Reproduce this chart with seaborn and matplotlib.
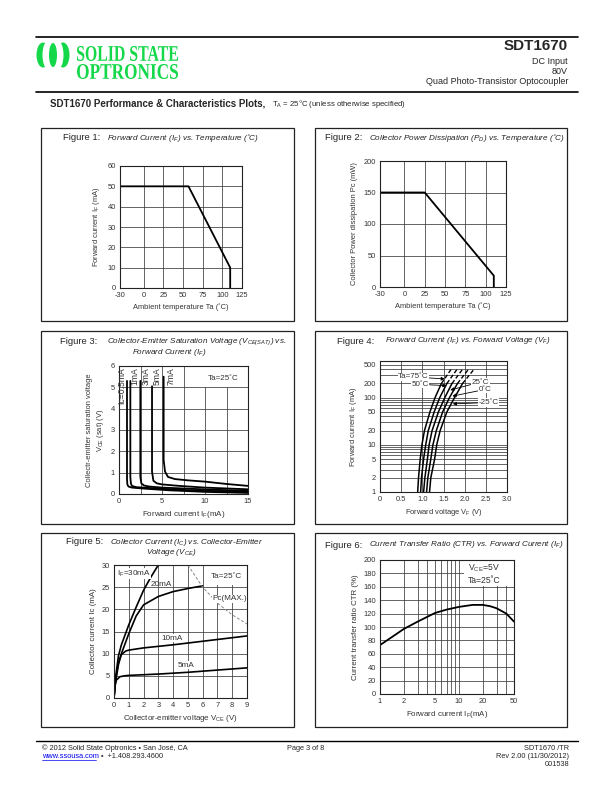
import numpy as np
import pandas as pd
import seaborn as sns
import matplotlib.pyplot as plt
import matplotlib.ticker as mticker
import matplotlib.transforms as mtransforms
from matplotlib.textpath import TextPath
from matplotlib.patches import PathPatch, Rectangle, Ellipse
from matplotlib.font_manager import FontProperties

# ---- data ----
# Figure 1: forward current derating
fig1_ta = [-30, 57, 110, 110]
fig1_if = [50, 50, 10, 0]

# Figure 2: collector power dissipation derating
fig2_ta = [-30, 25, 110, 110]
fig2_pc = [150, 150, 18, 0]

# Figure 3: Vce(sat) vs IF, one curve per Ic
fig3_labels = ["Ic=0.5mA", "1mA", "3mA", "5mA", "7mA"]
fig3_label_x = [0.36, 1.9, 3.15, 4.4, 6.0]
fig3_if = [
    [0.93, 0.93, 0.97, 1.1, 1.5, 3, 6, 10, 15],
    [1.32, 1.32, 1.38, 1.5, 2, 4, 7, 10, 15],
    [2.48, 2.48, 2.6, 2.9, 3.5, 5, 8, 11, 15],
    [3.84, 3.84, 4.0, 4.4, 5, 7, 10, 15],
    [5.19, 5.19, 5.35, 5.7, 6.5, 8, 10, 12.5, 15],
]
fig3_vce = [
    [5.3, 0.7, 0.45, 0.35, 0.3, 0.25, 0.17, 0.1, 0.05],
    [5.3, 0.8, 0.5, 0.38, 0.32, 0.27, 0.2, 0.15, 0.1],
    [5.3, 0.8, 0.5, 0.4, 0.35, 0.3, 0.25, 0.2, 0.15],
    [5.05, 1.05, 0.62, 0.5, 0.45, 0.38, 0.3, 0.22],
    [5.5, 1.6, 1.05, 0.8, 0.7, 0.64, 0.58, 0.47, 0.38],
]

# Figure 4: IF vs VF at several ambient temperatures
fig4_if = [1, 2, 5, 10, 20, 50, 100, 200, 400]
fig4_temps = ["75", "50", "25", "0", "-25"]
fig4_vf = [
    [0.89, 0.91, 0.95, 0.99, 1.05, 1.18, 1.30, 1.45, 1.68],
    [0.96, 0.98, 1.03, 1.08, 1.14, 1.28, 1.41, 1.58, 1.82],
    [1.03, 1.06, 1.12, 1.16, 1.23, 1.38, 1.53, 1.70, 1.95],
    [1.10, 1.13, 1.20, 1.25, 1.33, 1.48, 1.64, 1.83, 2.09],
    [1.17, 1.20, 1.29, 1.34, 1.42, 1.58, 1.76, 1.95, 2.22],
]
fig4_yticks = [1, 2, 5, 10, 20, 50, 100, 200, 500]
fig4_xticks = [0, 0.5, 1.0, 1.5, 2.0, 2.5, 3.0]

# Figure 5: Ic vs Vce, one curve per IF
fig5_vce = [
    [0, 0.1, 0.3, 0.5, 1, 1.5, 2, 2.5, 3],
    [0, 0.1, 0.3, 0.5, 1, 1.5, 2, 3, 4, 5, 6],
    [0, 0.1, 0.3, 0.5, 0.8, 1, 2, 4, 6, 9],
    [0, 0.05, 0.15, 0.4, 0.7, 1, 3, 5, 7, 9],
]
fig5_ic = [
    [0, 4.5, 9.5, 12, 16.5, 20.5, 24.3, 27.3, 30],
    [0, 3.5, 7.5, 10, 14.5, 18.5, 21, 22.9, 24, 24.7, 25.3],
    [0, 4, 8, 9.8, 10.6, 10.8, 11.3, 12, 12.8, 14],
    [0, 2.5, 4, 4.8, 5, 5.1, 5.4, 5.8, 6.3, 6.8],
]
fig5_pc_vce = [5, 6, 7, 8, 9]
fig5_pc_ic = [30, 25, 21.4, 18.75, 16.7]

# Figure 6: CTR vs IF
fig6_if = [1, 1.5, 2, 3, 5, 7, 10, 15, 20, 25, 30, 40, 50]
fig6_ctr = [73, 87, 97, 108, 121, 126, 130, 133, 133, 131, 128, 120, 108]

# ---- styling ----
sns.set_style("white")
plt.rcParams["font.family"] = ["Liberation Sans", "DejaVu Sans"]
plt.rcParams["axes.unicode_minus"] = False
plt.rcParams["mathtext.fontset"] = "custom"
plt.rcParams["mathtext.rm"] = "Liberation Sans"
plt.rcParams["mathtext.it"] = "Liberation Sans:italic"
plt.rcParams["mathtext.default"] = "regular"

W, H = 612, 792
GREEN = "#14d84a"
TXT = "#333333"
GRID = "#3a3a3a"
TICK_FS = 5.4
LAB_FS = 5.4

fig = plt.figure(figsize=(W / 100, H / 100), dpi=100)

# page layer in pixel coordinates
page = fig.add_axes([0, 0, 1, 1])
page.set_xlim(0, W)
page.set_ylim(H, 0)
page.axis("off")


def squeezed(s, x0, x1, ybase, height):
    tp = TextPath((0, 0), s, size=1, prop=FontProperties(family="Liberation Serif", weight="bold"))
    ext = tp.get_extents()
    tr = (mtransforms.Affine2D().translate(-ext.x0, -ext.y0)
          .scale((x1 - x0) / ext.width, -height / ext.height)
          .translate(x0, ybase) + page.transData)
    page.add_patch(PathPatch(tp, transform=tr, color=GREEN, lw=0))


# header
page.plot([36, 578], [36.5, 36.5], color="black", lw=1.2)
page.plot([36, 578], [92, 92], color="black", lw=1.2)
page.add_patch(Ellipse((43, 55), 13, 25, color=GREEN, lw=0))
page.add_patch(Ellipse((47.5, 55), 10, 27, color="white", lw=0))
page.add_patch(Ellipse((63, 55), 13, 25, color=GREEN, lw=0))
page.add_patch(Ellipse((58.5, 55), 10, 27, color="white", lw=0))
page.add_patch(Ellipse((53, 55), 8, 24, color=GREEN, lw=0))
squeezed("SOLID STATE", 77, 178, 61, 15)
squeezed("OPTRONICS", 77, 178, 79, 15)
page.text(568, 46, "SDT1670", ha="right", va="center", fontsize=11, fontweight="bold")
page.text(568, 61, "DC Input", ha="right", va="center", fontsize=6.5)
page.text(568, 72, "80V", ha="right", va="center", fontsize=6.5)
page.text(568, 82, "Quad Photo-Transistor Optocoupler", ha="right", va="center", fontsize=6.5)
page.text(50, 103, "SDT1670 Performance & Characteristics Plots,", ha="left", va="center",
          fontsize=7.0, fontweight="bold")
page.text(272, 103.5, r"T$_\mathrm{A}$ = 25°C (unless otherwise specified)", ha="left", va="center",
          fontsize=5.6)

# footer
page.plot([36, 578], [740.5, 740.5], color="black", lw=1.0)
page.text(42, 748, "© 2012 Solid State Optronics • San José, CA", ha="left", va="center", fontsize=5.3)
page.text(42, 756, "www.ssousa.com", ha="left", va="center", fontsize=5.3, color="#0000ee")
page.plot([42, 96], [759.5, 759.5], color="#0000ee", lw=0.5)
page.text(101, 756, "•  +1.408.293.4600", ha="left", va="center", fontsize=5.3)
page.text(287, 748, "Page 3 of 8", ha="left", va="center", fontsize=5.3)
page.text(569, 748, "SDT1670 /TR", ha="right", va="center", fontsize=5.3)
page.text(569, 756, "Rev 2.00 (11/30/2012)", ha="right", va="center", fontsize=5.3)
page.text(569, 764, "001538", ha="right", va="center", fontsize=5.3)

# panel boxes and titles
boxes = [(41, 128, 294, 321), (315, 128, 567, 321),
         (41, 331, 294, 524), (315, 331, 567, 524),
         (41, 533, 294, 727), (315, 533, 567, 727)]
for l, t, r, b in boxes:
    page.add_patch(Rectangle((l, t), r - l, b - t, fill=False, ec="#222222", lw=0.9))

titles = [
    (63, 138, "Figure 1:", 107, [(138, r"Forward Current (I$_F$) vs. Temperature (˚C)")]),
    (325, 138, "Figure 2:", 369, [(138, r"Collector Power Dissipation (P$_D$) vs. Temperature (˚C)")]),
    (60, 342, "Figure 3:", 107, [(342, r"Collector-Emitter Saturation Voltage (V$_{CE(SAT)}$) vs."),
                                 (353, r"Forward Current (I$_F$)", 132)]),
    (337, 341, "Figure 4:", 385, [(341, r"Forward Current (I$_F$) vs. Forward Voltage (V$_F$)")]),
    (66, 542, "Figure 5:", 110, [(542, r"Collector Current (I$_C$) vs. Collector-Emitter"),
                                 (553, r"Voltage (V$_{CE}$)", 146)]),
    (325, 545, "Figure 6:", 369, [(545, r"Current Transfer Ratio (CTR) vs. Forward Current (I$_F$)")]),
]
for fx, fy, fig_lbl, ix, lines in titles:
    page.text(fx, fy, fig_lbl, ha="left", va="center", fontsize=6.8)
    for item in lines:
        yy, txt = item[0], item[1]
        xx = item[2] if len(item) > 2 else ix
        page.text(xx, yy, txt, ha="left", va="center", fontsize=5.9, style="italic", color="#222222")


def panel(l, t, r, b):
    ax = fig.add_axes([l / W, 1 - b / H, (r - l) / W, (b - t) / H])
    ax.set_facecolor("none")
    for sp in ax.spines.values():
        sp.set_visible(True)
        sp.set_color("#222222")
        sp.set_linewidth(0.8)
    ax.tick_params(axis="both", which="both", length=0, pad=3, labelsize=TICK_FS, labelcolor=TXT)
    ax.grid(True, which="both", color=GRID, lw=0.55)
    ax.set_axisbelow(True)
    return ax


def curve(ax, x, y, **kw):
    kw.setdefault("color", "black")
    kw.setdefault("lw", 1.3)
    sns.lineplot(x=x, y=y, ax=ax, sort=False, estimator=None, legend=False, **kw)


deg = "˚"

# ---- Figure 1 ----
ax1 = panel(120, 166, 242, 288)
curve(ax1, fig1_ta, fig1_if)
ax1.set_xlim(-30, 125)
ax1.set_ylim(0, 60)
ax1.set_xticks([-30, 0, 25, 50, 75, 100, 125])
ax1.set_yticks(range(0, 61, 10))
ax1.set_xlabel(f"Ambient temperature Ta ({deg}C)", fontsize=LAB_FS, color=TXT, labelpad=3)
ax1.set_ylabel(r"Forward current I$_F$ (mA)", fontsize=LAB_FS, color=TXT, labelpad=4)

# ---- Figure 2 ----
ax2 = panel(380, 161, 506, 287)
curve(ax2, fig2_ta, fig2_pc)
ax2.set_xlim(-30, 125)
ax2.set_ylim(0, 200)
ax2.set_xticks([-30, 0, 25, 50, 75, 100, 125])
ax2.set_yticks(range(0, 201, 50))
ax2.set_xlabel(f"Ambient temperature Ta ({deg}C)", fontsize=LAB_FS, color=TXT, labelpad=3)
ax2.set_ylabel("Collector Power dissipation Pc (mW)", fontsize=LAB_FS, color=TXT, labelpad=4)

# ---- Figure 3 ----
ax3 = panel(119, 366, 248, 494)
for xs, ys in zip(fig3_if, fig3_vce):
    curve(ax3, xs, ys)
ax3.set_xlim(0, 15)
ax3.set_ylim(0, 6)
ax3.set_xticks([0, 5, 10, 15])
ax3.xaxis.set_minor_locator(mticker.MultipleLocator(2.5))
ax3.set_yticks(range(0, 7))
for lbl, lx in zip(fig3_labels, fig3_label_x):
    ax3.text(lx, 5.93, lbl, rotation=90, ha="center", va="top", fontsize=6.2, color=TXT)
ax3.add_patch(Rectangle((8.6, 5.02), 6.35, 0.96, fc="white", ec="none", zorder=1.5))
ax3.text(12.1, 5.4, f"Ta=25{deg}C", ha="center", va="center", fontsize=5.8, color=TXT)
ax3.set_xlabel(r"Forward current I$_F$(mA)", fontsize=LAB_FS + 0.4, color=TXT, labelpad=3)
ax3.set_ylabel("Collectr-emitter saturation voltage\n" + r"V$_{CE}$ (sat) (V)",
               fontsize=LAB_FS, color=TXT, labelpad=3, linespacing=1.4)

# ---- Figure 4 ----
ax4 = panel(380, 361, 507, 492)
ax4.set_yscale("log")
for vs in fig4_vf:
    curve(ax4, vs[:8], fig4_if[:8], lw=1.1)
    curve(ax4, vs[7:], fig4_if[7:], lw=1.0, linestyle=(0, (3, 1.6)))
ax4.set_xlim(0, 3.0)
ax4.set_ylim(1, 600)
ax4.set_xticks(fig4_xticks)
ax4.set_xticklabels([f"{v:.1f}" if v else "0" for v in fig4_xticks])
ax4.set_yticks(fig4_yticks)
ax4.set_yticklabels([str(v) for v in fig4_yticks])
ax4.yaxis.set_minor_locator(mticker.LogLocator(base=10, subs=np.arange(1, 10)))
ax4.yaxis.set_minor_formatter(mticker.NullFormatter())
lab_pos = [(0.79, 275, 1.53, 250), (0.95, 192, 1.57, 180), (2.37, 215, 1.66, 145),
           (2.49, 150, 1.71, 108), (2.57, 79, 1.72, 74)]
for tlabel, (tx, ty, ax_, ay_) in zip(fig4_temps, lab_pos):
    s = f"Ta={tlabel}{deg}C" if tlabel == "75" else f"{tlabel}{deg}C"
    ax4.annotate(s, xy=(ax_, ay_), xytext=(tx, ty), ha="center", va="center", fontsize=5.8,
                 color=TXT, bbox=dict(fc="white", ec="none", pad=0.4),
                 arrowprops=dict(arrowstyle="-|>", lw=0.6, color="black", mutation_scale=5,
                                 shrinkA=0, shrinkB=0))
ax4.set_xlabel(r"Forward voltage V$_F$ (V)", fontsize=LAB_FS, color=TXT, labelpad=3)
ax4.set_ylabel(r"Forward current I$_F$ (mA)", fontsize=LAB_FS, color=TXT, labelpad=3)

# ---- Figure 5 ----
ax5 = panel(114, 565, 247, 698)
for xs, ys in zip(fig5_vce, fig5_ic):
    curve(ax5, xs, ys, lw=1.2)
curve(ax5, fig5_pc_vce, fig5_pc_ic, color="#888888", lw=0.7, linestyle=(0, (3, 2)))
ax5.set_xlim(0, 9)
ax5.set_ylim(0, 30)
ax5.set_xticks(range(0, 10))
ax5.set_yticks(range(0, 31, 5))
ax5.add_patch(Rectangle((6.3, 25.6), 2.6, 4.3, fc="white", ec="none", zorder=1.5))
ax5.text(7.6, 27.3, f"Ta=25{deg}C", ha="center", va="center", fontsize=5.9, color=TXT)
box = dict(fc="white", ec="none", pad=0.3)
ax5.text(0.2, 28.0, r"I$_F$=30mA", ha="left", va="center", fontsize=5.9, color=TXT, bbox=box)
ax5.text(3.2, 25.6, "20mA", ha="center", va="center", fontsize=5.9, color=TXT)
ax5.text(7.8, 22.4, "Pc(MAX.)", ha="center", va="center", fontsize=5.9, color=TXT, bbox=box)
ax5.text(3.9, 13.5, "10mA", ha="center", va="center", fontsize=5.9, color=TXT, bbox=box)
ax5.text(4.9, 7.4, "5mA", ha="center", va="center", fontsize=5.9, color=TXT, bbox=box)
ax5.set_xlabel(r"Collector-emitter voltage V$_{CE}$ (V)", fontsize=LAB_FS + 0.3, color=TXT, labelpad=3)
ax5.set_ylabel("Collector current Ic (mA)", fontsize=LAB_FS + 0.3, color=TXT, labelpad=3)

# ---- Figure 6 ----
ax6 = panel(380, 560, 514, 694)
ax6.set_xscale("log")
curve(ax6, fig6_if, fig6_ctr, lw=1.3)
ax6.set_xlim(1, 50)
ax6.set_ylim(0, 200)
ax6.set_xticks([1, 2, 5, 10, 20, 50])
ax6.set_xticklabels(["1", "2", "5", "10", "20", "50"])
ax6.xaxis.set_minor_locator(mticker.FixedLocator([3, 4, 6, 7, 8, 9, 30, 40]))
ax6.xaxis.set_minor_formatter(mticker.NullFormatter())
ax6.set_yticks(range(0, 201, 20))
ax6.add_patch(Rectangle((11.5, 160.5), 38.3, 39.3, fc="white", ec="none", zorder=1.5))
ax6.text(21, 180, r"V$_{CE}$=5V" + "\n" + f"Ta=25{deg}C", ha="center", va="center",
         fontsize=6.2, color=TXT, linespacing=1.3)
ax6.set_xlabel(r"Forward current I$_F$(mA)", fontsize=LAB_FS + 0.3, color=TXT, labelpad=3)
ax6.set_ylabel("Current transfer ratio CTR (%)", fontsize=LAB_FS + 0.3, color=TXT, labelpad=3)

fig.savefig("out.png", dpi=100)
